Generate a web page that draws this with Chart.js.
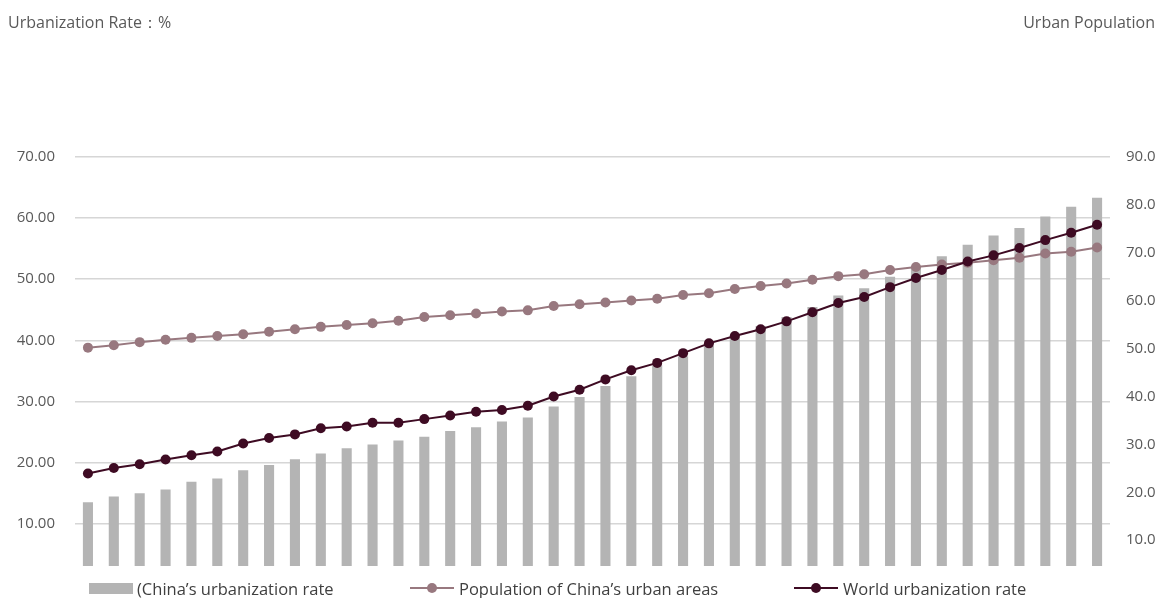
<!DOCTYPE html>
<html>
<head>
<meta charset="utf-8">
<script src="https://cdn.jsdelivr.net/npm/chart.js@4/dist/chart.umd.min.js"></script>
<style>
  body { margin: 0; background: #fff; }
  #wrap { position: relative; width: 1158px; height: 598px; font-family: "Open Sans", sans-serif; }
  .axis-title { position: absolute; top: 11px; font-size: 16px; color: #595959; white-space: nowrap; }
  #legend { position: absolute; left: 0; top: 578px; width: 1158px; height: 20px; }
  .lg-item { position: absolute; top: 0; height: 20px; display: flex; align-items: center; font-size: 16.5px; color: #3f3f3f; white-space: nowrap; }
  .lg-box { width: 44px; height: 11px; margin-right: 4px; }
  .lg-line { position: relative; width: 44px; height: 2px; margin-right: 5px; }
  .lg-dot { position: absolute; left: 17px; top: -4px; width: 10px; height: 10px; border-radius: 50%; }
</style>
</head>
<body>
<div id="wrap">
  <canvas id="myChart" width="1158" height="598"></canvas>
  <div class="axis-title" style="left:8px;">Urbanization Rate：%</div>
  <div class="axis-title" style="right:3px;">Urban Population</div>
  <div id="legend"></div>
</div>
<script>
// years on the category axis (not drawn)
const years = [];
for (let y = 1978; y <= 2017; y++) years.push(String(y));

// bars, right axis (units of 10 million)
const urbanPopulation = [17.9, 19.1, 19.8, 20.6, 22.2, 22.9, 24.6, 25.7, 26.9, 28.1,
  29.2, 30.0, 30.8, 31.6, 32.8, 33.6, 34.8, 35.6, 37.9, 39.9,
  42.2, 44.2, 46.5, 48.4, 50.6, 52.8, 54.7, 56.6, 58.7, 61.1,
  62.6, 65.0, 67.1, 69.3, 71.7, 73.6, 75.2, 77.6, 79.6, 81.5];

// mauve line, left axis (%)
const worldRate = [38.8, 39.2, 39.7, 40.1, 40.4, 40.7, 41.0, 41.4, 41.8, 42.2,
  42.5, 42.8, 43.2, 43.8, 44.1, 44.4, 44.7, 44.9, 45.6, 45.9,
  46.2, 46.5, 46.8, 47.4, 47.7, 48.4, 48.9, 49.3, 49.9, 50.5,
  50.8, 51.5, 52.0, 52.4, 52.7, 53.1, 53.5, 54.2, 54.5, 55.2];

// dark line, left axis (%)
const chinaRate = [18.2, 19.1, 19.7, 20.5, 21.2, 21.8, 23.1, 24.0, 24.6, 25.6,
  25.9, 26.5, 26.5, 27.1, 27.7, 28.3, 28.6, 29.3, 30.8, 31.9,
  33.6, 35.1, 36.3, 37.9, 39.5, 40.7, 41.8, 43.1, 44.6, 46.1,
  47.1, 48.7, 50.2, 51.5, 52.9, 53.9, 55.1, 56.4, 57.6, 58.9];

const leftTicks = [10, 20, 30, 40, 50, 60, 70];
const rightTicks = [10, 20, 30, 40, 50, 60, 70, 80, 90];

const seriesLabels = ['(China\u2019s urbanization rate', 'Population of China\u2019s urban areas', 'World urbanization rate'];

const barColor = '#b4b4b4';
const mauve = '#98787f';
const plum = '#3e0b23';

const tickFont = { family: 'Open Sans', size: 15 };

const ctx = document.getElementById('myChart').getContext('2d');
const chart = new Chart(ctx, {
  type: 'bar',
  data: {
    labels: years,
    datasets: [{
      type: 'bar',
      label: seriesLabels[0],
      data: urbanPopulation,
      yAxisID: 'y1',
      backgroundColor: barColor,
      barPercentage: 0.39,
      categoryPercentage: 1,
      order: 3
    }, {
      type: 'line',
      label: seriesLabels[1],
      data: worldRate,
      yAxisID: 'y',
      borderColor: mauve,
      backgroundColor: mauve,
      borderWidth: 2,
      pointRadius: 5,
      pointBorderWidth: 0,
      tension: 0,
      order: 2
    }, {
      type: 'line',
      label: seriesLabels[2],
      data: chinaRate,
      yAxisID: 'y',
      borderColor: plum,
      backgroundColor: plum,
      borderWidth: 2,
      pointRadius: 5,
      pointBorderWidth: 0,
      tension: 0,
      order: 1
    }]
  },
  options: {
    responsive: false,
    animation: false,
    layout: { padding: { top: 157, bottom: 32, left: 0, right: 0 } },
    plugins: { legend: { display: false }, tooltip: { enabled: false } },
    scales: {
      x: { display: false, offset: true },
      y: {
        position: 'left',
        min: 3.06,
        max: 70,
        afterBuildTicks: (s) => { s.ticks = leftTicks.map(v => ({ value: v })); },
        afterFit: (s) => { s.width = 75; },
        border: { display: false },
        grid: { color: '#d6d6d6', lineWidth: 1.5, drawTicks: false },
        ticks: { padding: 20, color: '#595959', font: tickFont, callback: v => v.toFixed(2) }
      },
      y1: {
        position: 'right',
        min: 4.61,
        max: 90,
        afterBuildTicks: (s) => { s.ticks = rightTicks.map(v => ({ value: v })); },
        afterFit: (s) => { s.width = 48; },
        border: { display: false },
        grid: { drawOnChartArea: false, drawTicks: false },
        ticks: { padding: 16, color: '#595959', font: tickFont, callback: v => v.toFixed(1) }
      }
    }
  }
});

// legend below the plot, built from the datasets
const legendX = [89, 410, 794];
const legend = document.getElementById('legend');
chart.data.datasets.forEach((ds, i) => {
  const item = document.createElement('div');
  item.className = 'lg-item';
  item.style.left = legendX[i] + 'px';
  const swatch = document.createElement('span');
  if (ds.type === 'bar') {
    swatch.className = 'lg-box';
    swatch.style.background = ds.backgroundColor;
  } else {
    swatch.className = 'lg-line';
    swatch.style.background = ds.borderColor;
    const dot = document.createElement('span');
    dot.className = 'lg-dot';
    dot.style.background = ds.borderColor;
    swatch.appendChild(dot);
  }
  const text = document.createElement('span');
  text.innerText = ds.label;
  item.appendChild(swatch);
  item.appendChild(text);
  legend.appendChild(item);
});
</script>
</body>
</html>
